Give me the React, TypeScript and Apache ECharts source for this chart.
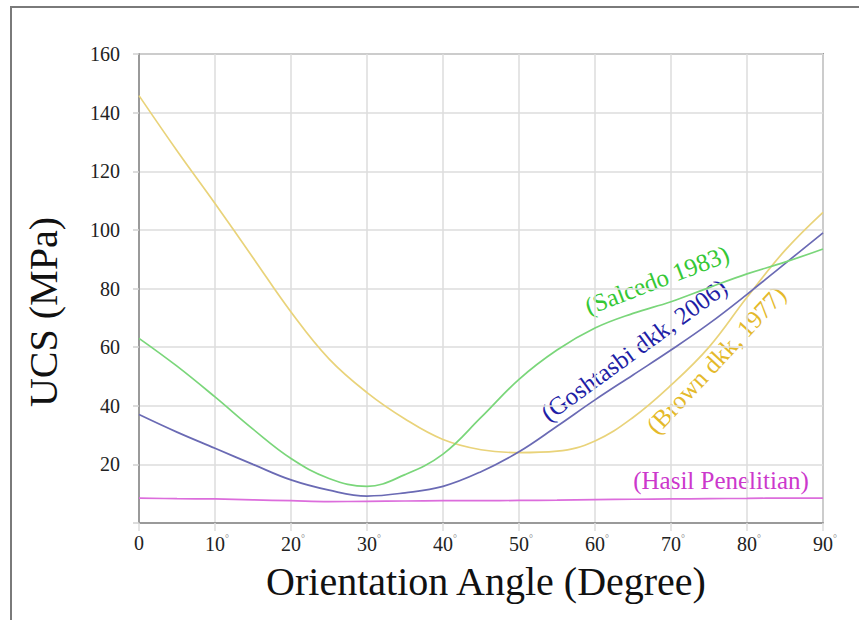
import React, { useEffect, useRef } from "react";
import * as echarts from "echarts";

const angles = [0, 5, 10, 15, 20, 25, 30, 35, 40, 45, 50, 55, 60, 65, 70, 75, 80, 85, 90];
const brown = [145.8, 127, 109, 90.5, 72, 56, 44.5, 35.5, 28.5, 25, 24, 24.5, 28, 36, 47, 60, 77, 93, 106];
const goshtasbi = [37, 31, 25.5, 20, 14.7, 11.2, 9.2, 10.3, 12.5, 17.5, 24.3, 33, 42, 50.5, 59, 68, 78, 88.5, 99];
const salcedo = [63, 53.5, 43, 32, 22, 15.2, 12.5, 16.5, 23.5, 36, 49, 59, 66.5, 71.5, 75.5, 80.3, 85, 89, 93.5];
const hasil = [8.5, 8.3, 8.2, 7.9, 7.6, 7.3, 7.4, 7.5, 7.6, 7.6, 7.7, 7.8, 8.0, 8.1, 8.2, 8.3, 8.4, 8.5, 8.5];

const seriesNames = ["(Brown dkk, 1977)", "(Goshtasbi dkk, 2006)", "(Salcedo 1983)", "(Hasil Penelitian)"];
const lineColors = ["#e9d37a", "#6a6ab4", "#7ad67a", "#dc6ddc"];
const textColors = ["#e4b92a", "#1f1fa6", "#35c835", "#cc38cc"];

const FONT = "Liberation Serif";

const pair = (ys: number[]) => angles.map((a, i) => [a, ys[i]]);

export default function App() {
  const ref = useRef<HTMLDivElement>(null);
  useEffect(() => {
    if (!ref.current) return;
    const chart = echarts.init(ref.current, undefined, { renderer: "svg" });
    const seriesData = [brown, goshtasbi, salcedo, hasil];
    chart.setOption({
      animation: false,
      backgroundColor: "#ffffff",
      grid: {
        left: 139,
        top: 54,
        right: 36,
        bottom: 97,
        show: true,
        borderColor: "#9a9a9a",
        borderWidth: 2,
      },
      xAxis: {
        type: "value",
        min: 0,
        max: 90,
        interval: 10,
        axisLine: { show: true, lineStyle: { color: "#9a9a9a", width: 2 } },
        axisTick: { show: true, length: 8, lineStyle: { color: "#dcdcdc", width: 1.5 } },
        splitLine: { show: true, lineStyle: { color: "#dcdcdc", width: 1.5 } },
        axisLabel: {
          margin: 10,
          fontFamily: FONT,
          fontSize: 20,
          color: "#222",
          formatter: (v: number) => (v === 0 ? "{n|0}" : `{p|°}{n|${v}}{d|°}`),
          rich: {
            n: { fontFamily: FONT, fontSize: 20, color: "#222" },
            d: { fontFamily: FONT, fontSize: 10, color: "#888", verticalAlign: "top", padding: [0, 0, 12, 0] },
            p: { fontFamily: FONT, fontSize: 10, color: "rgba(0,0,0,0)", verticalAlign: "top", padding: [0, 0, 12, 0] },
          },
        },
      },
      yAxis: {
        type: "value",
        min: 0,
        max: 160,
        interval: 20,
        axisLine: { show: true, lineStyle: { color: "#9a9a9a", width: 2 } },
        axisTick: { show: true, length: 6, lineStyle: { color: "#d0d0d0", width: 1.5 } },
        splitLine: { show: true, lineStyle: { color: "#dcdcdc", width: 1.5 } },
        axisLabel: {
          margin: 19,
          fontFamily: FONT,
          fontSize: 20,
          color: "#222",
          formatter: (v: number) => (v === 0 ? "" : String(v)),
        },
      },
      series: seriesNames.map((name, i) => ({
        name,
        type: "line",
        smooth: 0.4,
        showSymbol: false,
        symbol: "none",
        data: pair(seriesData[i]),
        lineStyle: { color: lineColors[i], width: 1.7 },
        z: 3,
      })),
      graphic: [
        {
          type: "rect",
          silent: true,
          shape: { x: 11, y: 7, width: 900, height: 640 },
          style: { fill: "none", stroke: "#7a7a7a", lineWidth: 2 },
        },
        {
          type: "text",
          x: 43,
          y: 312,
          rotation: Math.PI / 2,
          style: {
            text: "UCS (MPa)",
            fontFamily: FONT,
            fontSize: 40,
            fill: "#111",
            align: "center",
            verticalAlign: "middle",
          },
        },
        {
          type: "text",
          x: 486,
          y: 581,
          style: {
            text: "Orientation Angle (Degree)",
            fontFamily: FONT,
            fontSize: 40,
            fill: "#111",
            align: "center",
            verticalAlign: "middle",
          },
        },
        {
          type: "text",
          x: 657,
          y: 280,
          rotation: (21 * Math.PI) / 180,
          style: { text: seriesNames[2], fontFamily: FONT, fontSize: 25, fill: textColors[2], align: "center", verticalAlign: "middle" },
        },
        {
          type: "text",
          x: 634,
          y: 350,
          rotation: (36 * Math.PI) / 180,
          style: { text: seriesNames[1], fontFamily: FONT, fontSize: 25, fill: textColors[1], align: "center", verticalAlign: "middle" },
        },
        {
          type: "text",
          x: 716,
          y: 360,
          rotation: (47 * Math.PI) / 180,
          style: { text: seriesNames[0], fontFamily: FONT, fontSize: 25, fill: textColors[0], align: "center", verticalAlign: "middle" },
        },
        {
          type: "text",
          x: 721,
          y: 480,
          style: { text: seriesNames[3], fontFamily: FONT, fontSize: 25, fill: textColors[3], align: "center", verticalAlign: "middle" },
        },
      ],
    });
    return () => chart.dispose();
  }, []);
  return (
    <div
      ref={ref}
      style={{ position: "fixed", left: 0, top: 0, width: 859, height: 620, background: "#fff" }}
    />
  );
}
